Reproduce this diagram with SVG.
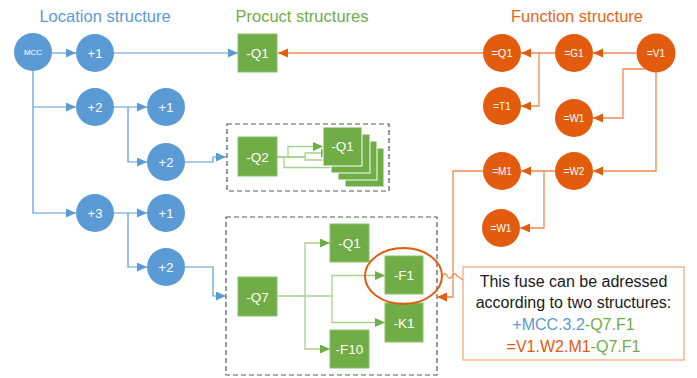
<svg xmlns="http://www.w3.org/2000/svg" width="697" height="378" viewBox="0 0 697 378">
<style>
text{font-family:"Liberation Sans",Arial,sans-serif;text-anchor:middle}
.title{font-size:16.5px}
.loc circle{fill:#5B9BD5}
.fun circle{fill:#E35B0C}
.prod rect{fill:#70AD47;stroke:#8CC16A;stroke-width:1}
.stack rect{fill:#70AD47;stroke:#fff;stroke-width:1}
.lbl{fill:#fff;font-size:13px}
.lblo{fill:#fff;font-size:10px}
.lbs{fill:#fff;font-size:13.5px}
.cb{stroke:#5B9BD5;stroke-width:1.2;fill:none}
.cg{stroke:#A9D18E;stroke-width:1.3;fill:none}
.co{stroke:#F08A4E;stroke-width:1.3;fill:none}
.dash{fill:none;stroke:#595959;stroke-width:1.2;stroke-dasharray:5 3}
.call{font-size:16px}
</style>
<defs>
<marker id="ab" markerUnits="userSpaceOnUse" markerWidth="11" markerHeight="10" refX="10" refY="4.5" orient="auto"><path d="M0,0L10,4.5L0,9z" fill="#5B9BD5"/></marker>
<marker id="ag" markerUnits="userSpaceOnUse" markerWidth="11" markerHeight="10" refX="10" refY="4.5" orient="auto"><path d="M0,0L10,4.5L0,9z" fill="#70AD47"/></marker>
<marker id="ao" markerUnits="userSpaceOnUse" markerWidth="11" markerHeight="10" refX="10" refY="4.5" orient="auto"><path d="M0,0L10,4.5L0,9z" fill="#E35B0C"/></marker>
</defs>

<text class="title" x="105" y="22" fill="#5B9BD5">Location structure</text>
<text class="title" x="302" y="22" fill="#70AD47">Procuct structures</text>
<text class="title" x="577" y="22" fill="#E8641B">Function structure</text>

<g id="box-q2"><rect class="dash" x="227" y="124" width="162" height="67"/></g>
<g id="box-q7"><rect class="dash" x="226" y="217" width="211" height="158"/></g>

<g id="connectors">
<path class="cb" d="M52,53H76" marker-end="url(#ab)"/>
<path class="cb" d="M33,71V213H76" marker-end="url(#ab)"/>
<path class="cb" d="M33,107H76" marker-end="url(#ab)"/>
<path class="cb" d="M114,53H238" marker-end="url(#ab)"/>
<path class="cb" d="M114,107H147" marker-end="url(#ab)"/>
<path class="cb" d="M128,107V162H147" marker-end="url(#ab)"/>
<path class="cb" d="M114,213H147" marker-end="url(#ab)"/>
<path class="cb" d="M128,213V267H147" marker-end="url(#ab)"/>
<path class="cb" d="M185,162H213V157H226" marker-end="url(#ab)"/>
<path class="cb" d="M185,267H213V296H226" marker-end="url(#ab)"/>

<path class="cg" d="M277,157H288V146.5H323" marker-end="url(#ag)"/>
<path class="cg" d="M277,157H305V153H331" marker-end="url(#ag)"/>
<path class="cg" d="M277,157H305V160H338" marker-end="url(#ag)"/>
<path class="cg" d="M277,157H284V167.5H345" marker-end="url(#ag)"/>
<path class="cg" d="M277,296H332"/>
<path class="cg" d="M305,296V243H330" marker-end="url(#ag)"/>
<path class="cg" d="M305,296V349H330" marker-end="url(#ag)"/>
<path class="cg" d="M332,296V275.5H385" marker-end="url(#ag)"/>
<path class="cg" d="M332,296V322.5H385" marker-end="url(#ag)"/>

<path class="co" d="M483,53H278" marker-end="url(#ao)"/>
<path class="co" d="M636.5,53H593" marker-end="url(#ao)"/>
<path class="co" d="M555,53H521" marker-end="url(#ao)"/>
<path class="co" d="M539,53V106H521" marker-end="url(#ao)"/>
<path class="co" d="M645,69H623V118H593" marker-end="url(#ao)"/>
<path class="co" d="M656,72V171H593" marker-end="url(#ao)"/>
<path class="co" d="M555,171H521" marker-end="url(#ao)"/>
<path class="co" d="M544,171V228H520" marker-end="url(#ao)"/>
<path class="co" d="M483,171H453V297H437" marker-end="url(#ao)"/>
<path class="co" d="M442,276c2,-3 4,-3 5,0c2,3 4,3 5,0c2,-3 4,-3 5,0l6,4"/>
</g>

<g id="MCC" class="loc"><circle cx="33" cy="52" r="19"/><text class="lblo" x="33" y="55" style="font-size:8px">MCC</text></g>
<g id="L1" class="loc"><circle cx="95" cy="53" r="19"/><text class="lbl" x="95" y="57.5">+1</text></g>
<g id="L2" class="loc"><circle cx="95" cy="107" r="19"/><text class="lbl" x="95" y="111.5">+2</text></g>
<g id="L3" class="loc"><circle cx="95" cy="213" r="19"/><text class="lbl" x="95" y="217.5">+3</text></g>
<g id="L21" class="loc"><circle cx="166" cy="107" r="19"/><text class="lbl" x="166" y="111.5">+1</text></g>
<g id="L22" class="loc"><circle cx="166" cy="162" r="19"/><text class="lbl" x="166" y="166.5">+2</text></g>
<g id="L31" class="loc"><circle cx="166" cy="213" r="19"/><text class="lbl" x="166" y="217.5">+1</text></g>
<g id="L32" class="loc"><circle cx="166" cy="267" r="19"/><text class="lbl" x="166" y="271.5">+2</text></g>

<g id="PQ1" class="prod"><rect x="238" y="34" width="39" height="38"/><text class="lbs" x="257.5" y="58">-Q1</text></g>
<g id="PQ2" class="prod"><rect x="238" y="137" width="39" height="39"/><text class="lbs" x="257.5" y="161.5">-Q2</text></g>
<g id="PQ2-Q1" class="stack">
<rect x="345" y="148" width="39" height="39"/>
<rect x="338" y="141" width="39" height="39"/>
<rect x="331" y="134" width="39" height="39"/>
<rect x="323" y="127" width="39" height="39"/>
<text class="lbs" x="342.5" y="151">-Q1</text>
</g>
<g id="PQ7" class="prod"><rect x="238" y="277" width="39" height="39"/><text class="lbs" x="257.5" y="301.5">-Q7</text></g>
<g id="PQ7-Q1" class="prod"><rect x="330" y="224" width="39" height="38"/><text class="lbs" x="349.5" y="248">-Q1</text></g>
<g id="PQ7-F1" class="prod"><rect x="385" y="256" width="38" height="38"/><text class="lbs" x="404" y="280">-F1</text></g>
<g id="PQ7-K1" class="prod"><rect x="385" y="303" width="38" height="39"/><text class="lbs" x="404" y="327.5">-K1</text></g>
<g id="PQ7-F10" class="prod"><rect x="330" y="330" width="39" height="38"/><text class="lbs" x="349.5" y="354">-F10</text></g>

<g id="FQ1" class="fun"><circle cx="502" cy="53" r="19"/><text class="lblo" x="502" y="57" style="font-size:11px">=Q1</text></g>
<g id="FG1" class="fun"><circle cx="574" cy="53" r="19"/><text class="lblo" x="574" y="56.5">=G1</text></g>
<g id="FV1" class="fun"><circle cx="656" cy="53" r="19.5"/><text class="lblo" x="656" y="56.5">=V1</text></g>
<g id="FT1" class="fun"><circle cx="502" cy="106" r="19"/><text class="lblo" x="502" y="109.5">=T1</text></g>
<g id="FW1" class="fun"><circle cx="574" cy="118" r="19"/><text class="lblo" x="574" y="121.5">=W1</text></g>
<g id="FM1" class="fun"><circle cx="502" cy="171" r="19"/><text class="lblo" x="502" y="174.5">=M1</text></g>
<g id="FW2" class="fun"><circle cx="574" cy="171" r="19"/><text class="lblo" x="574" y="174.5">=W2</text></g>
<g id="FW1b" class="fun"><circle cx="501" cy="228" r="19"/><text class="lblo" x="501" y="231.5">=W1</text></g>

<g id="highlight"><ellipse cx="403.5" cy="276" rx="38.5" ry="28" fill="none" stroke="#E35B0C" stroke-width="2"/></g>

<g id="callout">
<rect x="463" y="267" width="221" height="93" fill="#fff" stroke="#F4A478" stroke-width="1.2"/>
<text class="call" x="573.5" y="287" fill="#1a1a1a">This fuse can be adressed</text>
<text class="call" x="573.5" y="308" fill="#1a1a1a">according to two structures:</text>
<text class="call" x="573.5" y="330"><tspan fill="#5B9BD5">+MCC.3.2</tspan><tspan fill="#70AD47">-Q7.F1</tspan></text>
<text class="call" x="573.5" y="352"><tspan fill="#E35B0C">=V1.W2.M1</tspan><tspan fill="#70AD47">-Q7.F1</tspan></text>
</g>
</svg>
